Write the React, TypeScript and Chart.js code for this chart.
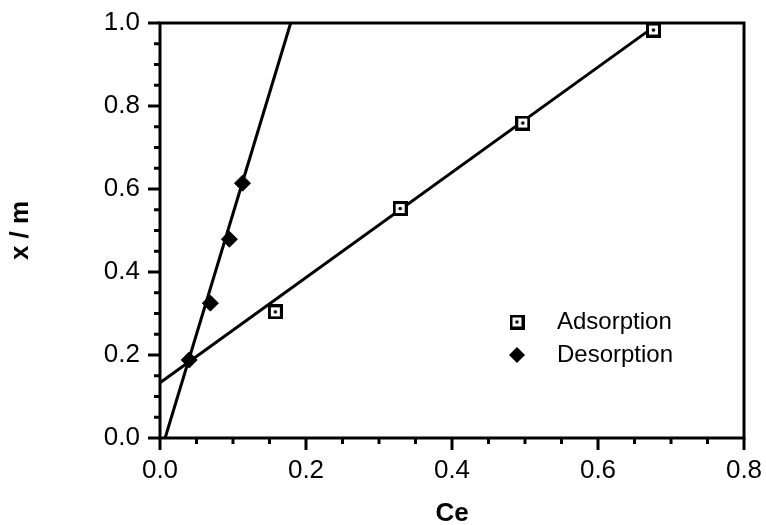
import React, { useEffect, useRef } from "react";
import { Chart, registerables } from "chart.js";

Chart.register(...registerables);

// Data
const adsorptionCe = [0.158, 0.329, 0.497, 0.676];
const adsorptionXm = [0.304, 0.553, 0.759, 0.983];
const desorptionCe = [0.040, 0.069, 0.095, 0.113];
const desorptionXm = [0.188, 0.325, 0.479, 0.614];

// Fitted lines (end points)
const adsorptionFitCe = [0.0, 0.676];
const adsorptionFitXm = [0.133, 0.99];
const desorptionFitCe = [0.007, 0.179];
const desorptionFitXm = [0.0, 1.0];

const xTicks = [0.0, 0.2, 0.4, 0.6, 0.8];
const yTicks = [0.0, 0.2, 0.4, 0.6, 0.8, 1.0];
const minorStep = 0.05;

const seriesNames = ["Adsorption", "Desorption"];
const xTitle = "Ce";
const yTitle = "x / m";

const FONT = "'Liberation Sans', Arial, Helvetica, sans-serif";

function makeSquareMarker(): HTMLCanvasElement {
  const c = document.createElement("canvas");
  c.width = 15;
  c.height = 15;
  const g = c.getContext("2d")!;
  g.fillStyle = "#fff";
  g.fillRect(0, 0, 15, 15);
  g.strokeStyle = "#000";
  g.lineWidth = 3;
  g.strokeRect(1.5, 1.5, 12, 12);
  g.fillStyle = "#000";
  g.beginPath();
  g.arc(7.5, 7.5, 1.8, 0, Math.PI * 2);
  g.fill();
  return c;
}

const toXY = (xs: number[], ys: number[]) => xs.map((x, i) => ({ x, y: ys[i] }));

export default function App() {
  const ref = useRef<HTMLCanvasElement | null>(null);

  useEffect(() => {
    const canvas = ref.current!;
    const square = makeSquareMarker();

    const framePlugin = {
      id: "frame",
      beforeDatasetsDraw(chart: any) {
        const { ctx, chartArea } = chart;
        const xs = chart.scales.x;
        const ys = chart.scales.y;
        ctx.save();
        ctx.strokeStyle = "#000";
        ctx.lineWidth = 3;
        ctx.strokeRect(chartArea.left, chartArea.top, chartArea.right - chartArea.left, chartArea.bottom - chartArea.top);
        ctx.lineCap = "butt";
        const nx = Math.round((xs.max - xs.min) / minorStep);
        for (let i = 0; i <= nx; i++) {
          const v = xs.min + i * minorStep;
          const px = xs.getPixelForValue(v);
          const major = xTicks.some((t) => Math.abs(t - v) < 1e-6);
          ctx.beginPath();
          ctx.moveTo(px, chartArea.bottom);
          ctx.lineTo(px, chartArea.bottom + (major ? 12 : 6));
          ctx.stroke();
        }
        const ny = Math.round((ys.max - ys.min) / minorStep);
        for (let i = 0; i <= ny; i++) {
          const v = ys.min + i * minorStep;
          const py = ys.getPixelForValue(v);
          const major = yTicks.some((t) => Math.abs(t - v) < 1e-6);
          ctx.beginPath();
          ctx.moveTo(chartArea.left, py);
          ctx.lineTo(chartArea.left - (major ? 12 : 6), py);
          ctx.stroke();
        }
        ctx.restore();
      },
      afterDraw(chart: any) {
        const { ctx, chartArea } = chart;
        ctx.save();
        const symX = chartArea.left + 357;
        const textX = chartArea.left + 397;
        const rows = [chartArea.top + 299, chartArea.top + 332];
        [0, 1].forEach((i) => {
          const ds = chart.data.datasets[i];
          const y = rows[i];
          if (i === 0) {
            ctx.drawImage(square, symX - 7.5, y - 7.5);
          } else {
            const r = 8;
            ctx.fillStyle = "#000";
            ctx.beginPath();
            ctx.moveTo(symX, y - r);
            ctx.lineTo(symX + r, y);
            ctx.lineTo(symX, y + r);
            ctx.lineTo(symX - r, y);
            ctx.closePath();
            ctx.fill();
          }
          ctx.fillStyle = "#000";
          ctx.font = `24px ${FONT}`;
          ctx.textBaseline = "middle";
          ctx.textAlign = "left";
          ctx.fillText(ds.label, textX, y);
        });
        ctx.restore();
      },
    };

    const chart = new Chart(canvas, {
      type: "scatter",
      data: {
        datasets: [
          {
            label: seriesNames[0],
            data: toXY(adsorptionCe, adsorptionXm),
            pointStyle: square as any,
            pointRadius: 7.5,
            showLine: false,
            order: 0,
            clip: false as any,
          },
          {
            label: seriesNames[1],
            data: toXY(desorptionCe, desorptionXm),
            pointStyle: "rectRot",
            pointRadius: 8,
            backgroundColor: "#000",
            borderColor: "#000",
            borderWidth: 1,
            showLine: false,
            order: 1,
            clip: false as any,
          },
          {
            label: "adsorption fit",
            data: toXY(adsorptionFitCe, adsorptionFitXm),
            showLine: true,
            borderColor: "#000",
            borderWidth: 3,
            pointRadius: 0,
            order: 2,
            clip: false as any,
          },
          {
            label: "desorption fit",
            data: toXY(desorptionFitCe, desorptionFitXm),
            showLine: true,
            borderColor: "#000",
            borderWidth: 3,
            pointRadius: 0,
            order: 3,
            clip: false as any,
          },
        ],
      },
      options: {
        responsive: false,
        animation: false,
        devicePixelRatio: 1,
        layout: { padding: { left: 0, top: 23, right: 22, bottom: 0 } },
        plugins: { legend: { display: false }, tooltip: { enabled: false } },
        scales: {
          x: {
            type: "linear",
            min: 0,
            max: 0.8,
            grid: { display: false, drawTicks: false },
            border: { display: false },
            afterFit: (s: any) => {
              s.height = 87;
              s.paddingLeft = 0;
              s.paddingRight = 0;
            },
            afterBuildTicks: (s: any) => {
              s.ticks = xTicks.map((v) => ({ value: v }));
            },
            ticks: {
              color: "#000",
              font: { family: FONT, size: 26 },
              padding: 17,
              callback: (v: any) => Number(v).toFixed(1),
            },
            title: {
              display: true,
              text: xTitle,
              color: "#000",
              font: { family: FONT, size: 26, weight: "bold" },
              padding: { top: 0, bottom: -4 },
            },
          },
          y: {
            type: "linear",
            min: 0,
            max: 1,
            grid: { display: false, drawTicks: false },
            border: { display: false },
            afterFit: (s: any) => {
              s.width = 160;
              s.paddingTop = 0;
              s.paddingBottom = 0;
            },
            afterBuildTicks: (s: any) => {
              s.ticks = yTicks.map((v) => ({ value: v }));
            },
            ticks: {
              color: "#000",
              font: { family: FONT, size: 26 },
              padding: 20,
              callback: (v: any) => Number(v).toFixed(1),
            },
            title: {
              display: true,
              text: yTitle,
              color: "#000",
              font: { family: FONT, size: 26, weight: "bold" },
              padding: { top: 5, bottom: 6 },
            },
          },
        },
      },
      plugins: [framePlugin],
    } as any);

    return () => chart.destroy();
  }, []);

  return (
    <div style={{ position: "fixed", left: 0, top: 0, width: 766, height: 525, background: "#fff" }}>
      <canvas ref={ref} width={766} height={525} style={{ display: "block" }} />
    </div>
  );
}
